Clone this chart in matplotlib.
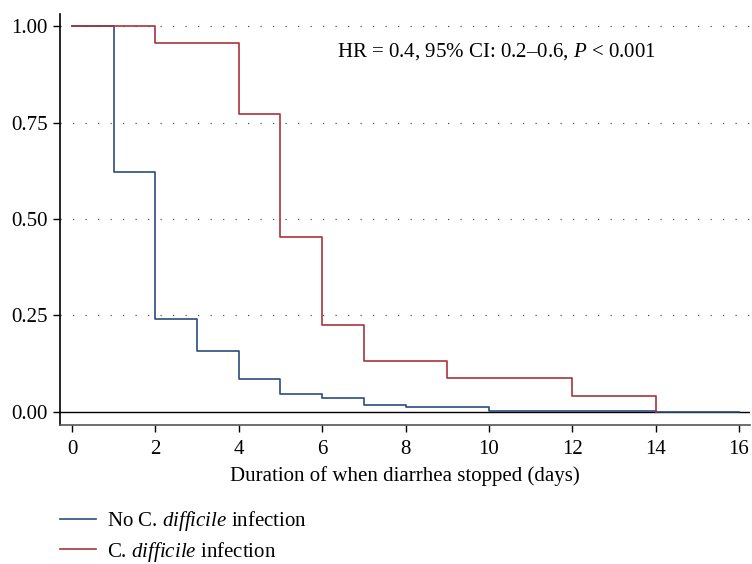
import matplotlib
matplotlib.use("Agg")
import matplotlib.pyplot as plt

plt.rcParams['font.family'] = ['Liberation Serif', 'DejaVu Serif']
plt.rcParams['mathtext.fontset'] = 'custom'
plt.rcParams['mathtext.rm'] = 'Liberation Serif'
plt.rcParams['mathtext.it'] = 'Liberation Serif:italic'

# Step times and survival (proportion with diarrhea) values
no_cdi_t = [0, 1, 2, 3, 4, 5, 6, 7, 8, 10, 14, 16]
no_cdi_s = [1.0, 0.622, 0.241, 0.157, 0.086, 0.047, 0.037, 0.017, 0.013, 0.002, 0.0, 0.0]
cdi_t = [0, 2, 4, 5, 6, 7, 9, 12, 14]
cdi_s = [1.0, 0.955, 0.772, 0.452, 0.225, 0.133, 0.089, 0.041, 0.0]

x_ticks = [0, 2, 4, 6, 8, 10, 12, 14, 16]
y_ticks = [0.0, 0.25, 0.5, 0.75, 1.0]
y_labels = ['0.00', '0.25', '0.50', '0.75', '1.00']

blue = '#2b4c7e'
red = '#a8343c'
FS = 15

fig = plt.figure(figsize=(7.52, 5.64), dpi=100)
ax = fig.add_axes([0.0798, 0.2465, 0.9172, 0.7285])

for y in y_ticks[1:]:
    ax.axhline(y, color='#555555', linestyle=(0, (1, 9)), linewidth=0.9, zorder=0)
ax.axhline(0, color='black', linewidth=1.0, zorder=1)

l1, = ax.step(no_cdi_t, no_cdi_s, where='post', color=blue, linewidth=1.2, zorder=2)
l2, = ax.step(cdi_t, cdi_s, where='post', color=red, linewidth=1.2, zorder=3)

ax.set_xlim(-0.29, 16.26)
ax.set_ylim(-0.034, 1.031)
ax.set_xticks(x_ticks)
ax.set_yticks(y_ticks)
ax.set_yticklabels(y_labels)
ax.tick_params(labelsize=FS, direction='out', length=5, width=1, colors='black', pad=4)
ax.tick_params(axis='x', pad=6)
ax.spines['top'].set_visible(False)
ax.spines['right'].set_visible(False)
ax.spines['left'].set_linewidth(1.2)
ax.spines['bottom'].set_linewidth(1.2)
ax.spines['bottom'].set_color('#555555')

ax.set_xlabel('Duration of when diarrhea stopped (days)', fontsize=FS, labelpad=5)

ax.text(0.864, 0.908, r'HR = 0.4, 95% CI: 0.2–0.6, $\mathit{P}$ < 0.001',
        transform=ax.transAxes, ha='right', va='center', fontsize=FS)

fig.legend([l1, l2], [r'No C. $\mathit{difficile}$ infection', r'C. $\mathit{difficile}$ infection'],
           loc='upper left', bbox_to_anchor=(0.069, 0.1117), bbox_transform=fig.transFigure,
           frameon=False, fontsize=FS, handlelength=1.7, handletextpad=0.53,
           labelspacing=0.3, borderaxespad=0)

fig.savefig('out.png', dpi=100)
